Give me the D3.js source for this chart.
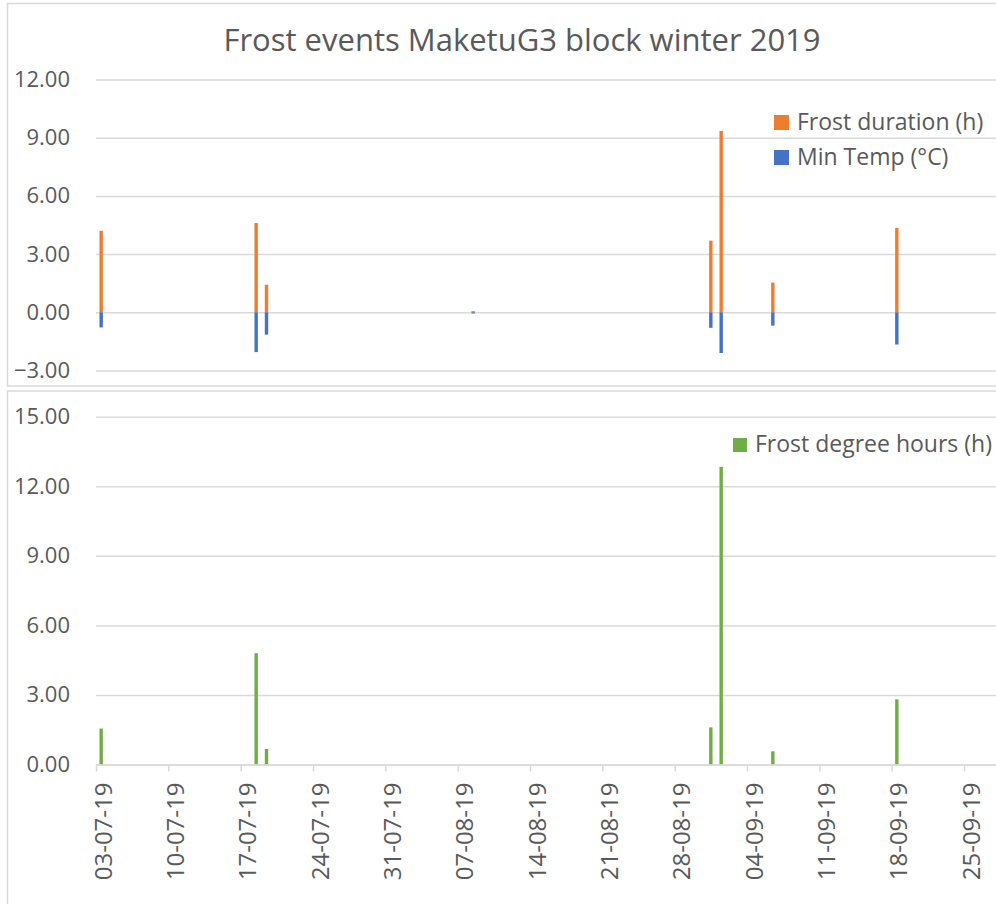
<!DOCTYPE html>
<html>
<head>
<meta charset="utf-8">
<script src="https://cdn.jsdelivr.net/npm/d3@7"></script>
<style>
  html, body { margin: 0; padding: 0; background: #fff; }
  svg { display: block; font-family: "Open Sans", "Noto Sans", sans-serif; }
</style>
</head>
<body>
<svg id="chart" width="996" height="904"></svg>
<script>
// ---- data ----
const eventDates = ["03-07-19","18-07-19","19-07-19","08-08-19","31-08-19","01-09-19","06-09-19","18-09-19"];
const frostDuration = [4.2, 4.6, 1.42, 0.06, 3.69, 9.35, 1.53, 4.35];
const minTemp = [-0.78, -2.05, -1.15, -0.06, -0.8, -2.1, -0.69, -1.66];
const frostDegreeHours = [1.55, 4.8, 0.67, 0, 1.6, 12.84, 0.57, 2.81];
const tickDates = ["03-07-19","10-07-19","17-07-19","24-07-19","31-07-19","07-08-19","14-08-19","21-08-19","28-08-19","04-09-19","11-09-19","18-09-19","25-09-19"];
const topTicks = [-3, 0, 3, 6, 9, 12];
const bottomTicks = [0, 3, 6, 9, 12, 15];
const title = "Frost events MaketuG3 block winter 2019";
const seriesNames = ["Frost duration (h)", "Min Temp (°C)", "Frost degree hours (h)"];

const colors = { orange: "#ED7D31", blue: "#4472C4", green: "#70AD47", grid: "#D9D9D9", text: "#595959" };

const parse = d3.timeParse("%d-%m-%y");
const fmt = d3.timeFormat("%d-%m-%y");
const dates = eventDates.map(parse);
const ticks = tickDates.map(parse);

const svg = d3.select("#chart");

// ---- x scale (shared) ----
const x0 = parse("03-07-19");
const pxPerDay = (964 - 96) / 84;
const x = d3.scaleTime()
  .domain([x0, d3.timeDay.offset(x0, 88)])
  .range([96, 96 + 88 * pxPerDay]);
const barW = 3.4;
const cx = d => x(d3.timeHour.offset(d, 12));

// ---- panel borders ----
svg.append("rect").attr("x", 7.5).attr("y", 3.5).attr("width", 1100).attr("height", 382.5)
  .attr("fill", "none").attr("stroke", colors.grid).attr("stroke-width", 1.5);
svg.append("rect").attr("x", 7.5).attr("y", 391).attr("width", 1100).attr("height", 600)
  .attr("fill", "none").attr("stroke", colors.grid).attr("stroke-width", 1.5);

// ---- title ----
svg.append("text").attr("x", 522).attr("y", 51).attr("text-anchor", "middle")
  .attr("fill", colors.text).style("font-size", "31px").text(title);

// ---- top panel ----
const yTop = d3.scaleLinear().domain([-3, 12]).range([370.5, 79.5]);
const gTopAxis = svg.append("g").attr("transform", "translate(96,0)")
  .call(d3.axisLeft(yTop).tickValues(topTicks).tickFormat(d3.format(".2f")).tickSize(-1000));
gTopAxis.select(".domain").remove();
gTopAxis.selectAll(".tick line").attr("stroke", colors.grid).attr("stroke-width", 1.5);
gTopAxis.selectAll(".tick text").attr("x", -26).attr("fill", colors.text)
  .style("font-size", "22px").style("font-family", "'Open Sans', sans-serif");

svg.append("g").selectAll("rect").data(dates).join("rect")
  .attr("x", d => cx(d) - barW / 2)
  .attr("width", barW)
  .attr("y", (d, i) => yTop(frostDuration[i]))
  .attr("height", (d, i) => yTop(0) - yTop(frostDuration[i]))
  .attr("fill", colors.orange);
svg.append("g").selectAll("rect").data(dates).join("rect")
  .attr("x", d => cx(d) - barW / 2)
  .attr("width", barW)
  .attr("y", yTop(0))
  .attr("height", (d, i) => yTop(minTemp[i]) - yTop(0))
  .attr("fill", colors.blue);

// legend top
const legTop = [
  { name: seriesNames[0], color: colors.orange, y: 115 },
  { name: seriesNames[1], color: colors.blue, y: 150 }
];
legTop.forEach(l => {
  svg.append("rect").attr("x", 774).attr("y", l.y).attr("width", 15).attr("height", 15).attr("fill", l.color);
  svg.append("text").attr("x", 797).attr("y", l.y + 15).attr("fill", colors.text)
    .style("font-size", "23px").text(l.name);
});

// ---- bottom panel ----
const yBot = d3.scaleLinear().domain([0, 15]).range([764.5, 416.7]);
const gBotAxis = svg.append("g").attr("transform", "translate(96,0)")
  .call(d3.axisLeft(yBot).tickValues(bottomTicks).tickFormat(d3.format(".2f")).tickSize(-1000));
gBotAxis.select(".domain").remove();
gBotAxis.selectAll(".tick line").attr("stroke", colors.grid).attr("stroke-width", 1.5);
gBotAxis.selectAll(".tick text").attr("x", -26).attr("fill", colors.text)
  .style("font-size", "22px").style("font-family", "'Open Sans', sans-serif");

svg.append("g").selectAll("rect").data(dates).join("rect")
  .attr("x", d => cx(d) - barW / 2)
  .attr("width", barW)
  .attr("y", (d, i) => yBot(frostDegreeHours[i]))
  .attr("height", (d, i) => yBot(0) - yBot(frostDegreeHours[i]))
  .attr("fill", colors.green);

// x axis
const gX = svg.append("g").attr("transform", `translate(0,${yBot(0)})`)
  .call(d3.axisBottom(x).tickValues(ticks).tickFormat(fmt).tickSize(7).tickSizeOuter(0));
gX.select(".domain").attr("stroke", colors.grid).attr("stroke-width", 1.5);
gX.selectAll(".tick line").attr("stroke", colors.grid).attr("stroke-width", 1.5);
gX.selectAll(".tick text")
  .attr("transform", "rotate(-90)")
  .attr("text-anchor", "end")
  .attr("x", -18).attr("y", 15).attr("dy", 0)
  .attr("fill", colors.text)
  .style("font-size", "24px").style("font-family", "'Open Sans', sans-serif");

// legend bottom
svg.append("rect").attr("x", 733).attr("y", 438).attr("width", 14).attr("height", 14).attr("fill", colors.green);
svg.append("text").attr("x", 755).attr("y", 452).attr("fill", colors.text)
  .style("font-size", "23px").text(seriesNames[2]);
</script>
</body>
</html>
